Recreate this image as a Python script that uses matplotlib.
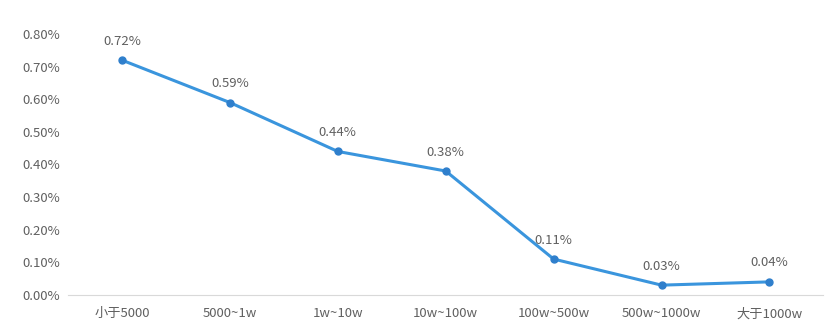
import matplotlib
matplotlib.use('Agg')
import matplotlib.pyplot as plt
from matplotlib.ticker import FuncFormatter

plt.rcParams['font.family'] = ['Noto Sans CJK SC', 'DejaVu Sans']

# 各区间的占比（%）
categories = ['小于5000', '5000~1w', '1w~10w', '10w~100w', '100w~500w', '500w~1000w', '大于1000w']
rates = [0.72, 0.59, 0.44, 0.38, 0.11, 0.03, 0.04]
y_ticks = [0.0, 0.1, 0.2, 0.3, 0.4, 0.5, 0.6, 0.7, 0.8]

line_color = '#3a95dd'
text_color = '#606060'

fig = plt.figure(figsize=(8.3, 3.34), dpi=100)
ax = fig.add_axes([0.082, 0.117, 0.910, 0.781])

x = list(range(len(categories)))
ax.plot(x, rates, color=line_color, linewidth=2.2, marker='o', markersize=5,
        markerfacecolor='#2f7fcc', markeredgecolor='#2f7fcc', zorder=3)

for xi, v in zip(x, rates):
    ax.annotate(f'{v:.2f}%', (xi, v), xytext=(0, 9), textcoords='offset points',
                ha='center', va='bottom', fontsize=9.5, color=text_color)

ax.set_xlim(-0.5, len(categories) - 0.5)
ax.set_ylim(0, 0.8)
ax.set_yticks(y_ticks)
ax.yaxis.set_major_formatter(FuncFormatter(lambda v, p: f'{v:.2f}%'))
ax.set_xticks(x)
ax.set_xticklabels(categories)

for side in ['top', 'right', 'left']:
    ax.spines[side].set_visible(False)
ax.spines['bottom'].set_color('#d9d9d9')
ax.tick_params(axis='both', length=0, labelsize=9.5, labelcolor=text_color)
ax.tick_params(axis='x', pad=9)
ax.tick_params(axis='y', pad=6)

plt.savefig('out.png', dpi=100)
